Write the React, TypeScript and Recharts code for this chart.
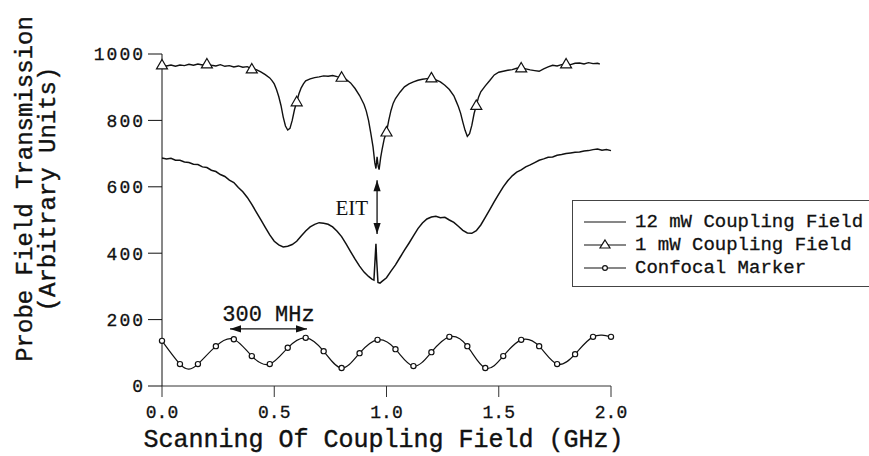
import React from "react";
import { LineChart, Line, XAxis, YAxis, ReferenceLine } from "recharts";

// 1 mW coupling field (top trace)
const weakX = [
  0, 0.02, 0.04, 0.06, 0.08, 0.1, 0.12, 0.14, 0.16, 0.18, 0.2, 0.22, 0.24, 0.26, 0.28, 0.3, 0.32, 0.34, 0.36, 0.38,
  0.4, 0.42, 0.44, 0.46, 0.48, 0.49, 0.5, 0.51, 0.52, 0.53, 0.54, 0.55, 0.56, 0.57, 0.58, 0.59, 0.6, 0.61, 0.62, 0.63,
  0.64, 0.66, 0.68, 0.7, 0.72, 0.74, 0.76, 0.78, 0.8, 0.82, 0.84, 0.86, 0.88, 0.9, 0.91, 0.92, 0.93, 0.94, 0.948, 0.953,
  0.958, 0.963, 0.967, 0.974, 0.98, 0.99, 1.0, 1.01, 1.02, 1.03, 1.04, 1.06, 1.08, 1.1, 1.12, 1.14, 1.16, 1.18, 1.2, 1.22,
  1.24, 1.26, 1.28, 1.3, 1.31, 1.32, 1.33, 1.34, 1.35, 1.36, 1.37, 1.38, 1.39, 1.4, 1.41, 1.42, 1.44, 1.46, 1.48, 1.5,
  1.52, 1.54, 1.56, 1.58, 1.6, 1.62, 1.64, 1.66, 1.68, 1.7, 1.72, 1.74, 1.76, 1.78, 1.8, 1.82, 1.84, 1.86, 1.88, 1.9,
  1.92, 1.94, 1.95,
];
const weakY = [
  967, 964, 967, 963, 967, 965, 969, 966, 970, 967, 970, 966, 964, 968, 963, 965, 961, 964, 960, 962,
  955, 953, 946, 938, 928, 920, 910, 893, 872, 845, 810, 783, 771, 776, 800, 832, 856, 880, 898, 910,
  919, 925, 929, 931, 934, 933, 935, 932, 930, 924, 913, 896, 875, 848, 828, 800, 762, 720, 672, 655,
  690, 662, 652, 688, 711, 745, 765, 800, 830, 852, 866, 885, 901, 910, 916, 921, 924, 926, 928, 922,
  916, 906, 893, 874, 858, 842, 822, 795, 770, 752, 760, 785, 820, 845, 870, 886, 904, 920, 937, 945,
  948, 951, 953, 957, 958, 955, 952, 950, 948, 955, 961, 966, 964, 968, 970, 968, 972, 973, 970, 974,
  971, 972, 970,
];

// 12 mW coupling field (middle trace)
const strongX = [
  0, 0.02, 0.04, 0.06, 0.08, 0.1, 0.12, 0.14, 0.16, 0.18, 0.2, 0.22, 0.24, 0.26, 0.28, 0.3, 0.32, 0.34, 0.36, 0.38,
  0.4, 0.42, 0.44, 0.46, 0.48, 0.5, 0.52, 0.54, 0.56, 0.58, 0.6, 0.62, 0.64, 0.66, 0.68, 0.7, 0.72, 0.74, 0.76, 0.78,
  0.8, 0.82, 0.84, 0.86, 0.88, 0.9, 0.92, 0.935, 0.944, 0.95, 0.953, 0.956, 0.962, 0.971, 0.98, 1.0, 1.02, 1.04, 1.06, 1.08,
  1.1, 1.12, 1.14, 1.16, 1.18, 1.2, 1.22, 1.24, 1.26, 1.28, 1.3, 1.32, 1.34, 1.36, 1.38, 1.4, 1.42, 1.44, 1.46, 1.48,
  1.5, 1.52, 1.54, 1.56, 1.58, 1.6, 1.62, 1.64, 1.66, 1.68, 1.7, 1.72, 1.74, 1.76, 1.78, 1.8, 1.82, 1.84, 1.86, 1.88,
  1.9, 1.92, 1.94, 1.96, 1.98, 2.0,
];
const strongY = [
  687, 684, 686, 680, 680, 675, 673, 668, 667, 660, 658, 650, 646, 637, 631, 620, 613, 598, 585, 568,
  547, 524, 501, 478, 455, 436, 425, 419, 421, 426, 436, 452, 467, 479, 487, 492, 490, 487, 479, 466,
  450, 428, 405, 382, 361, 343, 330, 322, 319, 392, 428, 382, 312, 310, 315, 326, 346, 365, 387, 409,
  430, 452, 474, 491, 503, 509, 511, 507, 508, 500, 493, 481, 469, 461, 460, 468, 485, 508, 531, 555,
  578, 600, 618, 633, 644, 651, 660, 666, 673, 680, 684, 689, 690, 695, 697, 700, 702, 704, 705, 708,
  709, 712, 714, 710, 712, 709,
];

// confocal marker (bottom trace)
const markerX = [
  0, 0.08, 0.12, 0.16, 0.24, 0.32, 0.4, 0.48, 0.56, 0.64, 0.72, 0.8, 0.88, 0.96, 1.04, 1.12, 1.2, 1.28, 1.36, 1.44,
  1.52, 1.6, 1.68, 1.76, 1.84, 1.92, 2.0,
];
const markerY = [
  136, 66, 51, 66, 120, 141, 90, 66, 115, 145, 105, 54, 99, 139, 111, 60, 102, 148, 120, 54,
  90, 139, 120, 66, 96, 148, 148,
];

const xTicks = [0, 0.5, 1, 1.5, 2];
const yTicks = [0, 200, 400, 600, 800, 1000];

const weakData = weakX.map((x, i) => ({ x, y: weakY[i] }));
const strongData = strongX.map((x, i) => ({ x, y: strongY[i] }));
const markerData = markerX.map((x, i) => ({ x, y: markerY[i] }));

const INK = "#111";
const MONO = "'Liberation Mono', monospace";

const onStep = (x: number, step: number) => Math.abs(x / step - Math.round(x / step)) < 1e-6;

const triDot = (props: any) => {
  const { cx, cy, payload, index } = props;
  if (!onStep(payload.x, 0.2)) return <g key={"t" + index} />;
  return (
    <path
      key={"t" + index}
      d={`M${cx},${cy - 5.5}L${cx + 5.5},${cy + 4}L${cx - 5.5},${cy + 4}Z`}
      fill="#fff"
      stroke={INK}
      strokeWidth={1.2}
    />
  );
};

const circleDot = (props: any) => {
  const { cx, cy, payload, index } = props;
  if (!onStep(payload.x, 0.08)) return <g key={"c" + index} />;
  return <circle key={"c" + index} cx={cx} cy={cy} r={2.6} fill="#fff" stroke={INK} strokeWidth={1.2} />;
};

const arrowShape = (props: any) => {
  const { x1, y1, x2, y2 } = props;
  const a = Math.atan2(y2 - y1, x2 - x1);
  const len = 11;
  const hw = 3.6;
  const head = (px: number, py: number, dir: number) => {
    const bx = px - Math.cos(dir) * len;
    const by = py - Math.sin(dir) * len;
    const nx = -Math.sin(dir) * hw;
    const ny = Math.cos(dir) * hw;
    return `M${px},${py}L${bx + nx},${by + ny}L${bx - nx},${by - ny}Z`;
  };
  return (
    <g>
      <line x1={x1} y1={y1} x2={x2} y2={y2} stroke={INK} strokeWidth={1.3} />
      <path d={head(x2, y2, a)} fill={INK} />
      <path d={head(x1, y1, a + Math.PI)} fill={INK} />
    </g>
  );
};

const YTitle = (props: any) => {
  const { x, y, height } = props.viewBox;
  const cy = y + height / 2 - 31;
  return (
    <g fill={INK} stroke={INK} strokeWidth={0.4} fontFamily={MONO} fontSize={24}>
      <text x={x + 32} y={cy} textAnchor="middle" transform={`rotate(-90 ${x + 32} ${cy})`}>
        Probe Field Transmission
      </text>
      <text x={x + 55} y={cy} textAnchor="middle" transform={`rotate(-90 ${x + 55} ${cy})`}>
        (Arbitrary Units)
      </text>
    </g>
  );
};

const XTitle = (props: any) => {
  const { x, y, width } = props.viewBox;
  return (
    <text
      x={x + width / 2 - 3}
      y={y + 61}
      textAnchor="middle"
      fill={INK}
      stroke={INK}
      strokeWidth={0.4}
      fontFamily={MONO}
      fontSize={25}
    >
      Scanning Of Coupling Field (GHz)
    </text>
  );
};

const legendItems = [
  { name: "12 mW Coupling Field", mark: "none" },
  { name: "1 mW Coupling Field", mark: "tri" },
  { name: "Confocal Marker", mark: "circle" },
];

const LegendBox = () => (
  <div
    style={{
      position: "absolute",
      left: 572,
      top: 200,
      border: "1px solid #444",
      width: 310,
      height: 87,
      boxSizing: "border-box",
      paddingTop: 9,
      fontFamily: MONO,
      fontSize: 19,
      color: INK,
      WebkitTextStroke: "0.3px #111",
    }}
  >
    {legendItems.map((it) => (
      <div key={it.name} style={{ display: "flex", alignItems: "center", height: 23.3 }}>
        <svg width={62} height={14} style={{ flex: "none" }}>
          <line x1={11} y1={7} x2={53} y2={7} stroke={INK} strokeWidth={1.2} />
          {it.mark === "tri" && <path d="M32,2L37,10L27,10Z" fill="#fff" stroke={INK} strokeWidth={1.2} />}
          {it.mark === "circle" && <circle cx={32} cy={7} r={2.4} fill="#fff" stroke={INK} strokeWidth={1.2} />}
        </svg>
        <span style={{ whiteSpace: "nowrap", lineHeight: "14px" }}>{it.name}</span>
      </div>
    ))}
  </div>
);

const App: React.FC = () => {
  return (
    <div style={{ position: "absolute", left: 0, top: 0, width: 869, height: 456, overflow: "hidden", background: "#fff" }}>
      <LineChart width={869} height={456} margin={{ top: 54, right: 258, left: 0, bottom: 0 }}>
        <XAxis
          type="number"
          dataKey="x"
          domain={[0, 2]}
          ticks={xTicks}
          tickFormatter={(v: number) => v.toFixed(1)}
          height={70}
          tickSize={11}
          tickMargin={8}
          stroke="#333"
          tick={{ fill: INK, stroke: INK, strokeWidth: 0.3, fontSize: 18, fontFamily: MONO }}
          label={XTitle as any}
        />
        <YAxis
          type="number"
          domain={[0, 1000]}
          ticks={yTicks}
          width={162}
          tickSize={14}
          tickMargin={3}
          stroke={INK}
          tick={{ fill: INK, stroke: INK, strokeWidth: 0.3, fontSize: 18, fontFamily: MONO, letterSpacing: 2 }}
          label={YTitle as any}
        />
        <Line
          data={strongData}
          dataKey="y"
          name="12 mW Coupling Field"
          type="linear"
          stroke={INK}
          strokeWidth={1.5}
          dot={false}
          activeDot={false}
          isAnimationActive={false}
        />
        <Line
          data={weakData}
          dataKey="y"
          name="1 mW Coupling Field"
          type="linear"
          stroke={INK}
          strokeWidth={1.4}
          dot={triDot}
          activeDot={false}
          isAnimationActive={false}
        />
        <Line
          data={markerData}
          dataKey="y"
          name="Confocal Marker"
          type="natural"
          stroke={INK}
          strokeWidth={1.2}
          dot={circleDot}
          activeDot={false}
          isAnimationActive={false}
        />
        <ReferenceLine
          segment={[{ x: 0.958, y: 620 }, { x: 0.958, y: 458 }]}
          shape={arrowShape}
          label={{ value: "EIT", position: "left", offset: 9, fill: INK, fontSize: 21, fontFamily: "'Liberation Serif', serif" }}
        />
        <ReferenceLine
          segment={[{ x: 0.303, y: 172 }, { x: 0.646, y: 172 }]}
          shape={arrowShape}
          label={{ value: "300 MHz", position: "top", offset: 8, fill: INK, stroke: INK, strokeWidth: 0.3, fontSize: 22, fontFamily: MONO }}
        />
      </LineChart>
      <LegendBox />
    </div>
  );
};

export default App;
